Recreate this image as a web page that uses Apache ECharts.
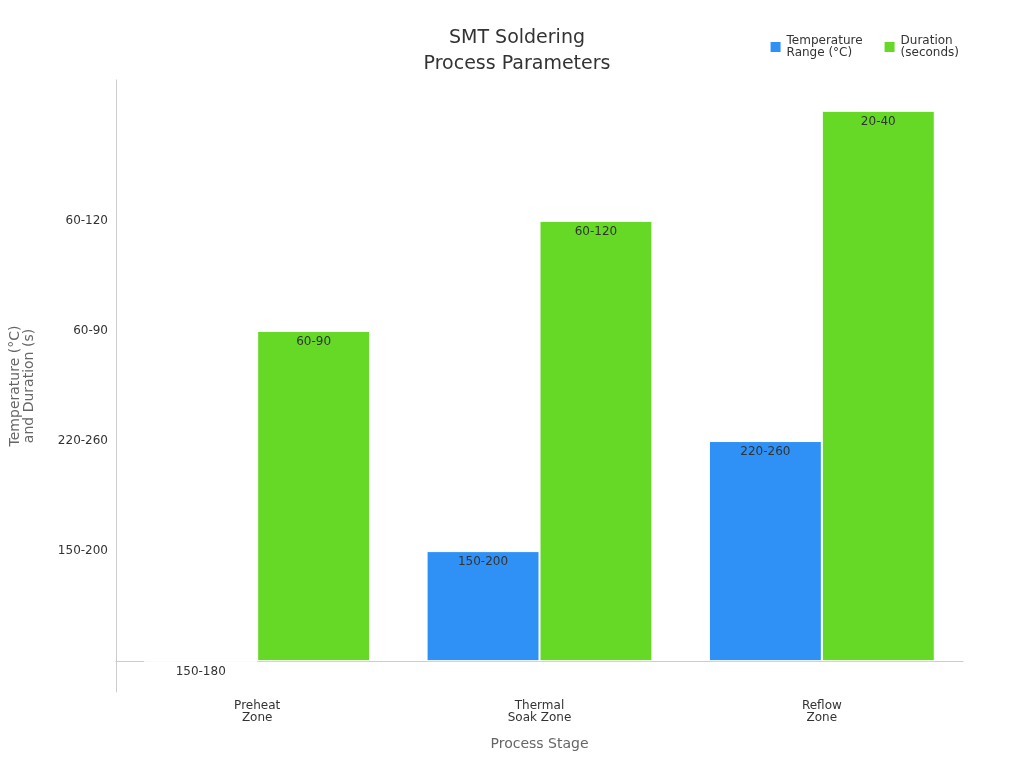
<!DOCTYPE html>
<html>
<head>
<meta charset="utf-8">
<script src="https://cdn.jsdelivr.net/npm/echarts@6/dist/echarts.min.js"></script>
<style>html,body{margin:0;padding:0;background:#fff}#chart{width:1024px;height:768px}</style>
</head>
<body>
<div id="chart"></div>
<script>
var stages = ['Preheat\nZone', 'Thermal\nSoak Zone', 'Reflow\nZone'];
// y axis tick labels, bottom to top (the chart treats them as ordered levels)
var levelLabels = ['150-180', '150-200', '220-260', '60-90', '60-120', '20-40'];
var tempLevels = ['150-180', '150-200', '220-260'];
var durationLevels = ['60-90', '60-120', '20-40'];

function toIndex(arr) {
    return arr.map(function (l) { return levelLabels.indexOf(l); });
}

var myChart = echarts.init(document.getElementById('chart'));
var labelOpt = {
    show: true, position: 'insideTop', color: '#333', fontSize: 12,
    fontFamily: 'DejaVu Sans',
    formatter: function (p) { return levelLabels[p.value]; }
};
myChart.setOption({
    textStyle: { fontFamily: 'DejaVu Sans' },
    title: {
        text: 'SMT Soldering\nProcess Parameters', left: 512, top: 20, textAlign: 'center',
        textStyle: { fontSize: 19, fontWeight: 'normal', color: '#333', lineHeight: 26 }
    },
    legend: {
        right: 60, top: 30, itemWidth: 12, itemHeight: 12, icon: 'rect', itemGap: 20,
        textStyle: { fontSize: 12, color: '#333' },
        data: ['Temperature\nRange (°C)', 'Duration\n(seconds)']
    },
    grid: { left: 115, right: 61, top: 80, bottom: 76 },
    xAxis: {
        type: 'category', data: stages,
        name: 'Process Stage', nameLocation: 'middle', nameGap: 45,
        nameTextStyle: { fontSize: 14, color: '#666' },
        axisLine: { lineStyle: { color: '#ccc' } },
        axisTick: { show: false },
        axisLabel: { color: '#333', fontSize: 12 }
    },
    yAxis: {
        type: 'value', min: -0.28, max: 5.28, interval: 1,
        name: 'Temperature (°C)\nand Duration (s)', nameLocation: 'middle', nameGap: 80,
        nameTextStyle: { fontSize: 14, color: '#666' },
        axisLine: { show: true, lineStyle: { color: '#ccc' } },
        axisTick: { show: false },
        splitLine: { show: false },
        axisLabel: {
            color: '#333', fontSize: 12, showMinLabel: false, showMaxLabel: false,
            customValues: [0, 1, 2, 3, 4, 5],
            formatter: function (v) { return levelLabels[Math.round(v)] || ''; }
        }
    },
    series: [
        {
            name: 'Temperature\nRange (°C)', type: 'bar', data: toIndex(tempLevels),
            itemStyle: { color: '#2f91f5', borderColor: '#fff', borderWidth: 1 },
            barGap: '0%', barCategoryGap: '20%', label: labelOpt
        },
        {
            name: 'Duration\n(seconds)', type: 'bar', data: toIndex(durationLevels),
            itemStyle: { color: '#66d926', borderColor: '#fff', borderWidth: 1 },
            label: labelOpt
        }
    ]
});
</script>
</body>
</html>
